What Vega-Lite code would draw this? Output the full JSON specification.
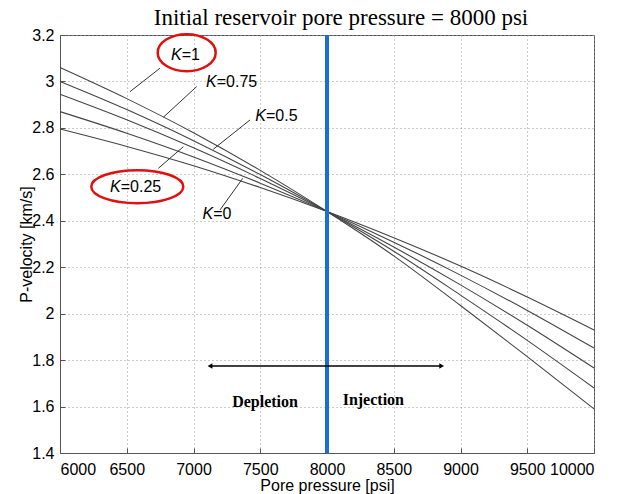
{
  "$schema": "https://vega.github.io/schema/vega-lite/v6.json",
  "width": 534,
  "height": 418,
  "autosize": {"type": "none"},
  "padding": {"left": 60, "top": 35, "right": 35, "bottom": 41},
  "background": "white",
  "title": {"text": "Initial reservoir pore pressure = 8000 psi", "font": "Liberation Serif", "fontSize": 23, "fontWeight": "normal", "color": "black", "offset": -3, "anchor": "middle", "dx": 14},
  "config": {
    "view": {"stroke": "#555", "strokeWidth": 1},
    "axis": {
      "labelFont": "Liberation Sans", "labelFontSize": 16, "labelColor": "black",
      "titleFont": "Liberation Sans", "titleFontSize": 16, "titleFontWeight": "normal", "titleColor": "black",
      "grid": true, "gridDash": [1, 3], "gridColor": "#999", "gridWidth": 1,
      "domainColor": "#555", "tickColor": "#555", "tickSize": -5
    }
  },
  "datasets": {
    "curves": [
      {"p": 6000, "v": 3.06, "K": "1"}, {"p": 6500, "v": 2.926, "K": "1"}, {"p": 7000, "v": 2.779, "K": "1"}, {"p": 7500, "v": 2.617, "K": "1"}, {"p": 8000, "v": 2.44, "K": "1"}, {"p": 8500, "v": 2.249, "K": "1"}, {"p": 9000, "v": 2.035, "K": "1"}, {"p": 9500, "v": 1.815, "K": "1"}, {"p": 10000, "v": 1.59, "K": "1"},
      {"p": 6000, "v": 3.0, "K": "0.75"}, {"p": 6500, "v": 2.879, "K": "0.75"}, {"p": 7000, "v": 2.745, "K": "0.75"}, {"p": 7500, "v": 2.599, "K": "0.75"}, {"p": 8000, "v": 2.44, "K": "0.75"}, {"p": 8500, "v": 2.269, "K": "0.75"}, {"p": 9000, "v": 2.08, "K": "0.75"}, {"p": 9500, "v": 1.885, "K": "0.75"}, {"p": 10000, "v": 1.68, "K": "0.75"},
      {"p": 6000, "v": 2.945, "K": "0.5"}, {"p": 6500, "v": 2.835, "K": "0.5"}, {"p": 7000, "v": 2.714, "K": "0.5"}, {"p": 7500, "v": 2.582, "K": "0.5"}, {"p": 8000, "v": 2.44, "K": "0.5"}, {"p": 8500, "v": 2.287, "K": "0.5"}, {"p": 9000, "v": 2.124, "K": "0.5"}, {"p": 9500, "v": 1.95, "K": "0.5"}, {"p": 10000, "v": 1.766, "K": "0.5"},
      {"p": 6000, "v": 2.87, "K": "0.25"}, {"p": 6500, "v": 2.777, "K": "0.25"}, {"p": 7000, "v": 2.675, "K": "0.25"}, {"p": 7500, "v": 2.562, "K": "0.25"}, {"p": 8000, "v": 2.44, "K": "0.25"}, {"p": 8500, "v": 2.308, "K": "0.25"}, {"p": 9000, "v": 2.166, "K": "0.25"}, {"p": 9500, "v": 2.014, "K": "0.25"}, {"p": 10000, "v": 1.852, "K": "0.25"},
      {"p": 6000, "v": 2.795, "K": "0"}, {"p": 6500, "v": 2.72, "K": "0"}, {"p": 7000, "v": 2.637, "K": "0"}, {"p": 7500, "v": 2.543, "K": "0"}, {"p": 8000, "v": 2.44, "K": "0"}, {"p": 8500, "v": 2.327, "K": "0"}, {"p": 9000, "v": 2.205, "K": "0"}, {"p": 9500, "v": 2.072, "K": "0"}, {"p": 10000, "v": 1.93, "K": "0"}
    ],
    "labels": [
      {"p": 6912, "v": 3.114, "k": "K", "rest": "=1"},
      {"p": 7174, "v": 2.999, "k": "K", "rest": "=0.75"},
      {"p": 7543, "v": 2.851, "k": "K", "rest": "=0.5"},
      {"p": 6455, "v": 2.547, "k": "K", "rest": "=0.25"},
      {"p": 7148, "v": 2.429, "k": "K", "rest": "=0"}
    ],
    "leaders": [
      {"p": 6749, "v": 3.057, "p2": 6524, "v2": 2.956},
      {"p": 7024, "v": 2.978, "p2": 6774, "v2": 2.846},
      {"p": 7423, "v": 2.834, "p2": 7148, "v2": 2.708},
      {"p": 6737, "v": 2.626, "p2": 6924, "v2": 2.719},
      {"p": 7199, "v": 2.447, "p2": 7369, "v2": 2.583}
    ]
  },
  "layer": [
    {
      "data": {"name": "curves"},
      "mark": {"type": "line", "color": "#444", "strokeWidth": 1.1, "interpolate": "monotone"},
      "encoding": {
        "x": {"field": "p", "type": "quantitative", "scale": {"domain": [6000, 10000], "nice": false, "zero": false}, "axis": {"values": [6000, 6500, 7000, 7500, 8000, 8500, 9000, 9500, 10000], "format": "d", "title": "Pore pressure [psi]", "titlePadding": 0, "labelPadding": 13}},
        "y": {"field": "v", "type": "quantitative", "scale": {"domain": [1.4, 3.2], "nice": false, "zero": false}, "axis": {"values": [1.4, 1.6, 1.8, 2.0, 2.2, 2.4, 2.6, 2.8, 3.0, 3.2], "format": "~g", "title": "P-velocity [km/s]", "titlePadding": -3, "labelPadding": 11}},
        "detail": {"field": "K"}
      }
    },
    {
      "data": {"values": [{"p": 8000}]},
      "mark": {"type": "rule", "color": "#1a6fd6", "strokeWidth": 4},
      "encoding": {"x": {"field": "p", "type": "quantitative"}}
    },
    {
      "data": {"values": [{"p1": 7124, "p2": 8859, "v": 1.775}]},
      "mark": {"type": "rule", "color": "black", "strokeWidth": 1.5},
      "encoding": {"x": {"field": "p1", "type": "quantitative"}, "x2": {"field": "p2"}, "y": {"field": "v", "type": "quantitative"}}
    },
    {
      "data": {"values": [{"p": 7124, "v": 1.775}]},
      "mark": {"type": "point", "shape": "triangle-left", "filled": true, "color": "black", "size": 30, "opacity": 1},
      "encoding": {"x": {"field": "p", "type": "quantitative"}, "y": {"field": "v", "type": "quantitative"}}
    },
    {
      "data": {"values": [{"p": 8859, "v": 1.775}]},
      "mark": {"type": "point", "shape": "triangle-right", "filled": true, "color": "black", "size": 30, "opacity": 1},
      "encoding": {"x": {"field": "p", "type": "quantitative"}, "y": {"field": "v", "type": "quantitative"}}
    },
    {
      "data": {"name": "leaders"},
      "mark": {"type": "rule", "color": "#333", "strokeWidth": 1},
      "encoding": {"x": {"field": "p", "type": "quantitative"}, "y": {"field": "v", "type": "quantitative"}, "x2": {"field": "p2"}, "y2": {"field": "v2"}}
    },
    {
      "data": {"name": "labels"},
      "mark": {"type": "text", "font": "Liberation Sans", "fontSize": 16, "fontStyle": "italic", "align": "right", "baseline": "middle", "color": "black"},
      "encoding": {"x": {"field": "p", "type": "quantitative"}, "y": {"field": "v", "type": "quantitative"}, "text": {"field": "k"}}
    },
    {
      "data": {"name": "labels"},
      "mark": {"type": "text", "font": "Liberation Sans", "fontSize": 16, "align": "left", "baseline": "middle", "color": "black"},
      "encoding": {"x": {"field": "p", "type": "quantitative"}, "y": {"field": "v", "type": "quantitative"}, "text": {"field": "rest"}}
    },
    {
      "data": {"values": [{"p": 6949, "v": 3.124}]},
      "mark": {"type": "point", "shape": "M-1,0 A1,0.638 0 1,1 1,0 A1,0.638 0 1,1 -1,0 Z", "size": 3364, "filled": false, "color": "#e01010", "strokeWidth": 2.5, "opacity": 1},
      "encoding": {"x": {"field": "p", "type": "quantitative"}, "y": {"field": "v", "type": "quantitative"}}
    },
    {
      "data": {"values": [{"p": 6579, "v": 2.547}]},
      "mark": {"type": "point", "shape": "M-1,0 A1,0.359 0 1,1 1,0 A1,0.359 0 1,1 -1,0 Z", "size": 8464, "filled": false, "color": "#e01010", "strokeWidth": 2.5, "opacity": 1},
      "encoding": {"x": {"field": "p", "type": "quantitative"}, "y": {"field": "v", "type": "quantitative"}}
    },
    {
      "data": {"values": [{"p": 7536, "v": 1.62, "t": "Depletion"}, {"p": 8347, "v": 1.63, "t": "Injection"}]},
      "mark": {"type": "text", "font": "Liberation Serif", "fontSize": 16, "fontWeight": "bold", "align": "center", "baseline": "middle", "color": "black"},
      "encoding": {"x": {"field": "p", "type": "quantitative"}, "y": {"field": "v", "type": "quantitative"}, "text": {"field": "t"}}
    }
  ]
}
